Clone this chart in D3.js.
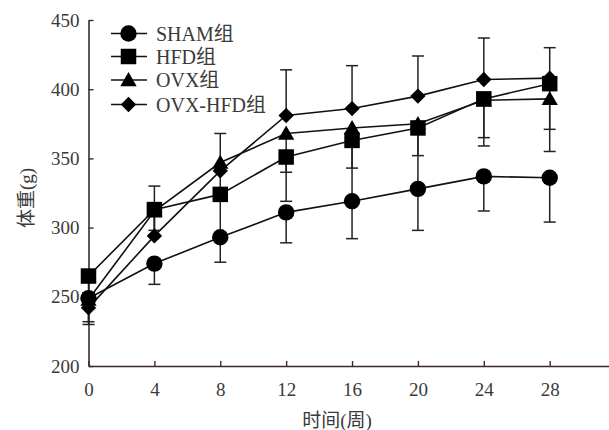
<!DOCTYPE html>
<html>
<head>
<meta charset="utf-8">
<script src="https://cdn.jsdelivr.net/npm/d3@7"></script>
<style>
  html, body { margin: 0; padding: 0; background: #fff; }
  svg { display: block; }
  text { font-family: "Liberation Serif", "Times New Roman", "Noto Sans CJK SC", serif; fill: #3a3a3a; }
</style>
</head>
<body>
<svg id="chart" width="609" height="430"></svg>
<script>
// ---- data ----
const weeks = [0, 4, 8, 12, 16, 20, 24, 28];
const seriesNames = ["SHAM组", "HFD组", "OVX组", "OVX-HFD组"];
const shamMean   = [249, 274, 293, 311, 319, 328, 337, 336];
const shamSD     = [17, 15, 18, 22, 27, 30, 25, 32];
const hfdMean    = [265, 313, 324, 351, 363, 372, 393, 404];
const hfdSD      = [12, 15, 28, 32, 44, 20, 34, 49];
const ovxMean    = [248, 312, 347, 368, 372, 375, 392, 393];
const ovxSD      = [18, 17, 22, 28, 29, 45, 27, 22];
const ovxHfdMean = [242, 294, 341, 381, 386, 395, 407, 408];
const ovxHfdSD   = [10, 36, 27, 33, 31, 29, 30, 22];
const yTicks = [200, 250, 300, 350, 400, 450];
const xTicks = [0, 4, 8, 12, 16, 20, 24, 28];
const xTitle = "时间(周)";
const yTitle = "体重(g)";

const series = [
  { name: seriesNames[3], mean: ovxHfdMean, sd: ovxHfdSD, dir: 1,  shape: "diamond" },
  { name: seriesNames[2], mean: ovxMean,    sd: ovxSD,    dir: -1, shape: "triangle" },
  { name: seriesNames[1], mean: hfdMean,    sd: hfdSD,    dir: -1, shape: "square" },
  { name: seriesNames[0], mean: shamMean,   sd: shamSD,   dir: -1, shape: "circle" }
];
const legendOrder = [3, 2, 1, 0];

// ---- layout ----
const svg = d3.select("#chart");
const x = d3.scaleLinear().domain([0, 31.6]).range([88.5, 609]);
const y = d3.scaleLinear().domain([200, 450]).range([366, 20]);
const axisColor = "#3b2b2d";
const fs = 19;

// Axes
const gy = svg.append("g").attr("transform", `translate(${x(0)},0)`)
  .call(d3.axisLeft(y).tickValues(yTicks).tickSizeInner(-5).tickSizeOuter(0).tickPadding(9));
const gx = svg.append("g").attr("transform", `translate(0,${y(200)})`)
  .call(d3.axisBottom(x).tickValues(xTicks).tickSizeInner(-5).tickSizeOuter(0).tickPadding(17));
[gx, gy].forEach(g => {
  g.selectAll("path.domain").attr("stroke", axisColor).attr("stroke-width", 1.6);
  g.selectAll(".tick line").attr("stroke", axisColor).attr("stroke-width", 1.4);
  g.selectAll(".tick text").attr("font-size", fs).attr("fill", "#3a3a3a")
    .attr("font-family", '"Liberation Serif", "Times New Roman", serif');
});

// Titles
svg.append("text").attr("x", 337).attr("y", 427).attr("text-anchor", "middle")
  .attr("font-size", 19).text(xTitle);
svg.append("text").attr("transform", "translate(33,198) rotate(-90)")
  .attr("text-anchor", "middle").attr("font-size", 19).text(yTitle);

function symbolFor(shape) {
  if (shape === "circle") return { d: d3.symbol().type(d3.symbolCircle).size(Math.PI * 8.2 * 8.2)(), rot: 0, dy: 0 };
  if (shape === "square") return { d: d3.symbol().type(d3.symbolSquare).size(15.5 * 15.5)(), rot: 0, dy: 0 };
  if (shape === "triangle") return { d: d3.symbol().type(d3.symbolTriangle).size(115)(), rot: 0, dy: 1.5 };
  return { d: d3.symbol().type(d3.symbolSquare).size(118)(), rot: 45, dy: 0 };
}

const line = d3.line().x((d, i) => x(weeks[i])).y(d => y(d));

series.forEach(s => {
  const g = svg.append("g");
  weeks.forEach((w, i) => {
    const y0 = y(s.mean[i]);
    const y1 = y(s.mean[i] + s.dir * s.sd[i]);
    g.append("line").attr("x1", x(w)).attr("x2", x(w)).attr("y1", y0).attr("y2", y1)
      .attr("stroke", "#222").attr("stroke-width", 1.5);
    g.append("line").attr("x1", x(w) - 6).attr("x2", x(w) + 6).attr("y1", y1).attr("y2", y1)
      .attr("stroke", "#222").attr("stroke-width", 1.5);
  });
  g.append("path").datum(s.mean).attr("d", line).attr("fill", "none")
    .attr("stroke", "#111").attr("stroke-width", 1.6);
});

series.forEach(s => {
  const sym = symbolFor(s.shape);
  svg.append("g").selectAll("path").data(s.mean).join("path")
    .attr("d", sym.d)
    .attr("transform", (d, i) => `translate(${x(weeks[i])},${y(d) + sym.dy}) rotate(${sym.rot})`)
    .attr("fill", "#000");
});

// Legend
const legendY = [33.5, 56.5, 80, 104.5];
legendOrder.forEach((si, k) => {
  const s = series[si];
  const ly = legendY[k];
  const sym = symbolFor(s.shape);
  const g = svg.append("g");
  g.append("line").attr("x1", 111).attr("x2", 147).attr("y1", ly).attr("y2", ly)
    .attr("stroke", "#111").attr("stroke-width", 1.6);
  g.append("path").attr("d", sym.d)
    .attr("transform", `translate(128.5,${ly + sym.dy}) rotate(${sym.rot})`)
    .attr("fill", "#000");
  g.append("text").attr("x", 156).attr("y", ly).attr("dy", "0.35em")
    .attr("font-size", 20).text(s.name);
});
</script>
</body>
</html>
